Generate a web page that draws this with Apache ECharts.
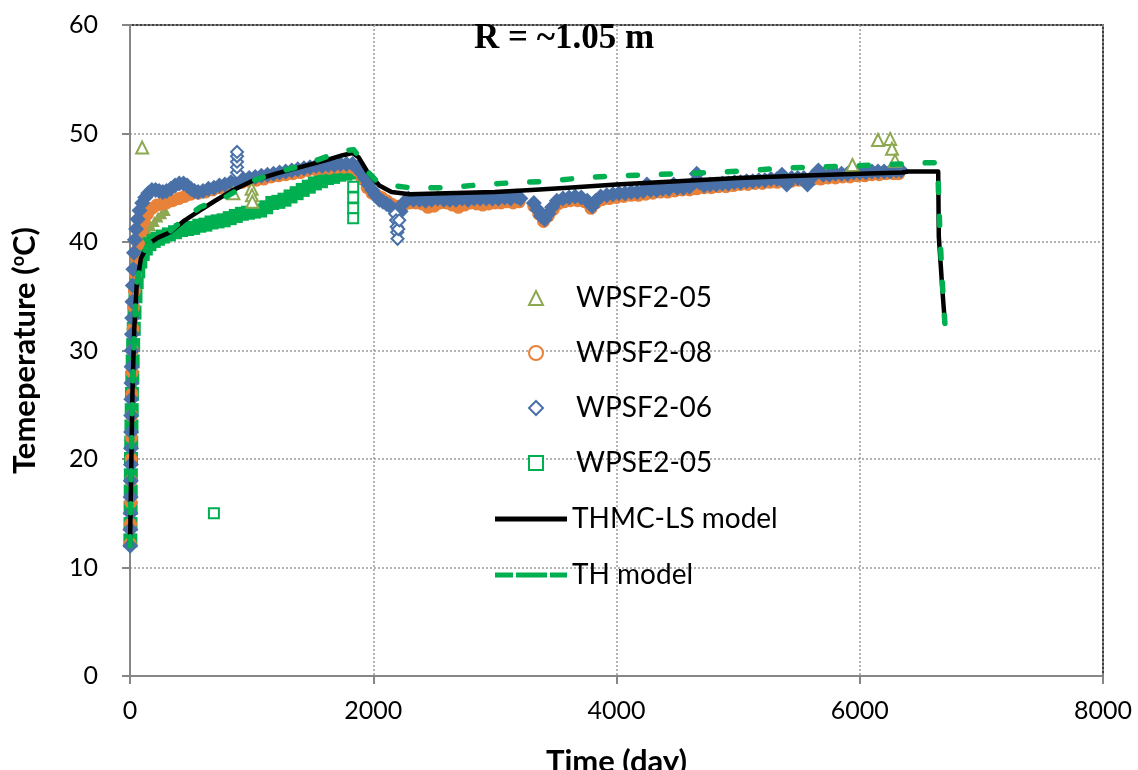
<!DOCTYPE html>
<html>
<head>
<meta charset="utf-8">
<title>Temperature at R ~1.05 m</title>
<script src="https://cdn.jsdelivr.net/npm/echarts@6/dist/echarts.min.js"></script>
<style>
  html, body { margin: 0; padding: 0; background: #fff; }
  #chart { width: 1138px; height: 770px; }
</style>
</head>
<body>
<div id="chart"></div>
<script>
// [day, temperature]
// WPSF2-06 (diamonds) - dense band
var wpsf206Band = [
  [2,12],[3,13.5],[4,15],[5,16.5],[6,18],[7,19.5],[8,21],[9,22.5],[10,24],[11,25.5],[12,27],[13,28.5],
  [14,30],[16,31.5],[18,33],[20,34.5],[23,36],[27,37.5],[33,39],[40,40.2],[50,41.2],[62,42.1],[78,42.9],
  [100,43.6],[125,44.1],[150,44.5],[180,44.8],[210,44.8],[240,44.7],[270,44.6],[300,44.7],[335,44.9],
  [370,45.2],[405,45.4],[440,45.4],[470,45.2],[500,44.9],[530,44.7],[560,44.6],[600,44.7],[645,44.9],
  [690,45.0],[735,45.2],[780,45.3],[830,45.5],[880,45.6],[930,45.8],[980,45.9],[1030,46.0],[1080,46.1],
  [1130,46.2],[1180,46.3],[1230,46.4],[1280,46.5],[1330,46.6],[1380,46.7],[1430,46.8],[1480,46.9],
  [1530,47.0],[1580,47.0],[1630,47.1],[1680,47.1],[1730,47.2],[1780,47.2],[1830,47.2],[1870,46.9],
  [1900,46.4],[1930,45.9],[1960,45.3],[1990,44.8],[2020,44.3],[2050,43.9],[2080,43.7],[2110,43.5],
  [2140,43.3],[2170,43.0],[2225,42.8],[2250,43.6],[2290,44.0],[2330,43.9],[2380,43.9],[2430,43.8],
  [2480,43.9],[2530,44.0],[2580,43.9],[2630,43.9],[2680,43.9],[2730,44.0],[2780,43.9],[2830,44.0],
  [2880,44.0],[2930,44.0],[2980,44.0],[3030,44.0],[3080,44.1],[3130,44.0],[3180,44.2],[3210,44.0],
  [3320,43.6],[3350,43.0],[3380,42.4],[3410,42.1],[3440,42.6],[3470,43.2],[3510,43.8],[3560,44.0],
  [3610,44.1],[3660,44.2],[3710,44.1],[3760,43.8],[3800,43.3],[3830,43.8],[3870,44.2],[3920,44.3],
  [3970,44.4],[4020,44.5],[4070,44.5],[4120,44.6],[4170,44.6],[4220,44.7],[4250,45.3],[4280,44.8],
  [4330,44.8],[4380,44.9],[4430,44.9],[4470,45.3],[4500,45.0],[4550,45.0],[4600,45.1],[4640,45.5],
  [4660,46.3],[4680,45.5],[4720,45.2],[4770,45.3],[4820,45.3],[4870,45.4],[4920,45.4],[4970,45.5],
  [5020,45.5],[5070,45.6],[5120,45.6],[5170,45.7],[5220,45.7],[5270,45.8],[5320,45.8],[5360,46.2],
  [5400,45.3],[5440,45.9],[5490,45.9],[5540,45.9],[5570,45.3],[5610,46.0],[5660,46.6],[5700,46.2],
  [5750,46.2],[5800,46.3],[5850,46.3],[5900,46.3],[5950,46.4],[6000,46.4],[6050,46.4],[6100,46.5],
  [6150,46.5],[6200,46.5],[6250,46.5],[6300,46.6],[6340,46.6]
];
// WPSF2-06 single readings
var wpsf206Points = [
  [880,46.4],[880,46.9],[880,47.4],[880,47.9],[880,48.3],
  [2180,42.6],[2188,42.0],[2193,41.4],[2197,40.9],[2200,40.3],[2206,41.2],[2214,42.0]
];

// WPSF2-08 (circles)
var wpsf208Band = [
  [2,12.2],[4,14],[6,16],[8,18],[10,20],[12,22],[14,24],[16,26],[18,28],[21,30],[25,32],[30,34],
  [36,35.5],[44,37],[55,38.5],[70,39.8],[90,41],[115,41.9],[145,42.6],[180,43.1],[220,43.4],[260,43.5],
  [300,43.6],[350,43.8],[400,44.0],[450,44.2],[500,44.4],[560,44.5],[620,44.6],[680,44.8],[740,45.0],
  [800,45.1],[860,45.3],[920,45.5],[980,45.6],[1040,45.7],[1100,45.8],[1160,46.0],[1220,46.1],
  [1280,46.2],[1340,46.3],[1400,46.4],[1460,46.6],[1520,46.7],[1580,46.8],[1640,46.8],[1700,46.9],
  [1760,46.9],[1820,46.9],[1870,46.6],[1910,45.8],[1950,45.0],[1990,44.5],[2030,44.3],[2070,44.1],
  [2110,43.8],[2150,43.5],[2200,43.3],[2250,43.4],[2300,43.6],[2350,43.6],[2400,43.5],[2450,43.2],
  [2500,43.3],[2550,43.6],[2600,43.6],[2650,43.4],[2700,43.2],[2750,43.4],[2800,43.6],[2850,43.5],
  [2900,43.4],[2950,43.5],[3000,43.6],[3050,43.6],[3100,43.7],[3150,43.6],[3200,43.7],
  [3320,43.3],[3360,42.6],[3400,41.9],[3440,42.4],[3480,43.0],[3520,43.5],[3570,43.7],[3620,43.8],
  [3680,43.8],[3740,43.7],[3790,43.1],[3830,43.6],[3880,43.9],[3940,44.0],[4000,44.1],[4060,44.2],
  [4120,44.3],[4180,44.3],[4240,44.4],[4300,44.5],[4360,44.6],[4420,44.6],[4480,44.7],[4540,44.8],
  [4600,44.8],[4660,44.9],[4720,45.0],[4780,45.0],[4840,45.1],[4900,45.1],[4960,45.2],[5020,45.3],
  [5080,45.3],[5140,45.4],[5200,45.4],[5260,45.5],[5320,45.5],[5380,45.6],[5440,45.6],[5500,45.7],
  [5560,45.7],[5620,45.8],[5680,45.8],[5740,45.9],[5800,45.9],[5860,46.0],[5920,46.0],[5980,46.1],
  [6040,46.1],[6100,46.2],[6160,46.2],[6220,46.3],[6280,46.3],[6320,46.3]
];

// WPSF2-05 (triangles)
var wpsf205Band = [
  [3,12.5],[6,15],[9,18],[12,21],[15,24],[18,27],[22,30],[27,33],[34,36],[45,38.5],[60,40],[80,40.6],
  [110,40.9],[140,41.1],[170,41.5],[200,41.9],[230,42.3],[260,42.6],[290,42.9]
];
var wpsf205Points = [
  [100,48.7],[850,44.5],[1000,44.9],[1003,44.3],[1006,43.7],
  [5940,47.1],[6150,49.4],[6250,49.5],[6265,48.6],[6290,47.5]
];

// WPSE2-05 (squares)
var wpse205Band = [
  [3,12.5],[4,14],[5,15.5],[6,17],[7,18.5],[8,20],[10,21.5],[12,23],[14,24.5],[16,26],[19,27.5],
  [22,29],[26,30.5],[31,32],[37,33.5],[45,35],[55,36.3],[68,37.3],[85,38.2],[105,38.9],[130,39.4],
  [160,39.8],[195,40.1],[230,40.3],[270,40.5],[320,40.7],[370,40.9],[420,41.1],[470,41.2],[520,41.3],
  [570,41.5],[620,41.6],[670,41.8],[720,41.9],[770,42.0],[820,42.2],[870,42.4],[920,42.6],[970,42.7],
  [1020,42.8],[1070,42.9],[1120,43.2],[1170,43.6],[1220,43.7],[1270,43.9],[1320,44.2],[1370,44.5],
  [1420,44.8],[1470,45.1],[1520,45.4],[1570,45.6],[1620,45.9],[1670,46.0],[1720,46.2],[1770,46.3],
  [1820,46.4],[1860,46.5]
];
var wpse205Points = [
  [690,15.0],[1835,45.1],[1835,44.1],[1835,43.1],[1835,42.2]
];

// models
var thmcModel = [
  [0,12],[10,19],[20,26],[35,32],[55,36],[90,38.5],[150,39.8],[230,40.4],[330,40.9],[450,42.0],
  [560,42.8],[700,43.8],[850,44.8],[1000,45.6],[1200,46.3],[1400,46.9],[1600,47.5],[1750,48.0],
  [1830,48.2],[1880,47.8],[1950,46.5],[2050,45.2],[2150,44.6],[2300,44.4],[2600,44.5],[3000,44.6],
  [3300,44.8],[3600,45.0],[4000,45.3],[4500,45.6],[5000,45.9],[5500,46.1],[6000,46.3],[6350,46.4],
  [6400,46.5],[6645,46.5],[6650,40.5],[6665,38],[6680,35.5],[6690,34],[6700,32.5]
];
var thModel = [
  [0,12],[10,19],[20,26],[35,32],[55,36],[90,38.5],[150,39.8],[230,40.4],[330,41.0],[450,42.2],
  [576,43.2],[797,44.2],[1000,45.6],[1200,46.4],[1400,47.0],[1550,47.6],[1750,48.4],[1840,48.5],
  [1900,47.6],[1960,46.4],[2030,45.6],[2100,45.3],[2300,45.0],[2600,45.0],[2900,45.3],[3200,45.5],
  [3450,45.6],[3700,45.9],[4000,46.1],[4300,46.2],[4500,46.3],[4800,46.4],[5100,46.6],[5350,46.8],
  [5600,46.9],[5900,47.0],[6150,47.1],[6550,47.3],[6640,47.3],[6645,45.5],[6660,40.5],[6680,36],
  [6700,32.5]
];

var xTicks = [0, 2000, 4000, 6000, 8000];
var yTicks = [0, 10, 20, 30, 40, 50, 60];

var blue = '#4a70a8', orange = '#e8823a', olive = '#8da851', green = '#00b050';
var font = 'Lato, "Open Sans", sans-serif';

var chart = echarts.init(document.getElementById('chart'));

function band(name, data, symbol, size, color) {
  return {
    name: name, type: 'scatter', data: data, symbol: symbol, symbolSize: size,
    itemStyle: { color: color, opacity: 1 }, silent: true
  };
}
function points(name, data, symbol, size, color) {
  return {
    name: name, type: 'scatter', data: data, symbol: symbol, symbolSize: size,
    itemStyle: { color: color, borderColor: color, borderWidth: 1.6, opacity: 1 }, silent: true
  };
}

var legendText = { fontFamily: font, fontSize: 28, color: '#000' };

chart.setOption({
  animation: false,
  backgroundColor: '#fff',
  title: {
    text: 'R = ~1.05 m',
    left: 474, top: 21, padding: 0,
    textStyle: { fontFamily: '"Liberation Serif", serif', fontWeight: 'bold', fontSize: 35, color: '#000' }
  },
  grid: {
    left: 130, top: 25, right: 35, bottom: 94,
    outerBoundsMode: 'none', containLabel: false,
    show: true, borderColor: '#000', borderWidth: 1.5, backgroundColor: '#fff'
  },
  legend: [{
    orient: 'vertical', left: 528, top: 284, padding: 0,
    itemWidth: 14, itemHeight: 14, itemGap: 27, symbolKeepAspect: true,
    textStyle: Object.assign({ padding: [0, 0, 0, 28] }, legendText),
    data: [
      { name: 'WPSF2-05', icon: 'emptyTriangle' },
      { name: 'WPSF2-08', icon: 'emptyCircle' },
      { name: 'WPSF2-06', icon: 'emptyDiamond' },
      { name: 'WPSE2-05', icon: 'emptyRect' }
    ]
  }, {
    orient: 'vertical', left: 495, top: 505, padding: 0,
    itemWidth: 72, itemHeight: 5, itemGap: 28, symbolKeepAspect: false,
    textStyle: legendText,
    data: [
      { name: 'THMC-LS model', icon: 'rect' },
      { name: 'TH model', icon: 'path://M0,0h18v5h-18z M21,0h31v5h-31z M55,0h17v5h-17z' }
    ]
  }],
  xAxis: {
    type: 'value', min: xTicks[0], max: xTicks[xTicks.length - 1], interval: 2000,
    name: 'Time (day)', nameLocation: 'middle', nameGap: 70,
    nameTextStyle: { fontFamily: font, fontWeight: 'bold', fontSize: 31, color: '#000' },
    axisLine: { lineStyle: { color: '#868686', width: 2 } },
    axisTick: { show: true, length: 8, lineStyle: { color: '#868686', width: 2 } },
    axisLabel: { fontFamily: font, fontSize: 25, color: '#000', margin: 22, formatter: function (v) { return String(v); } },
    splitLine: { show: true, lineStyle: { color: '#9a9a9a', width: 1.5, type: [2, 2] } }
  },
  yAxis: {
    type: 'value', min: yTicks[0], max: yTicks[yTicks.length - 1], interval: 10,
    name: '{t|Temeperature (}{s|o}{t|C)}', nameLocation: 'middle', nameGap: 90,
    nameTextStyle: {
      rich: {
        t: { fontFamily: font, fontWeight: 'bold', fontSize: 31, color: '#000' },
        s: { fontFamily: font, fontWeight: 'bold', fontSize: 18, color: '#000', verticalAlign: 'top' }
      }
    },
    axisLine: { show: true, lineStyle: { color: '#868686', width: 2 } },
    axisTick: { show: true, length: 8, lineStyle: { color: '#868686', width: 2 } },
    axisLabel: { fontFamily: font, fontSize: 25, color: '#000', margin: 32 },
    splitLine: { show: true, lineStyle: { color: '#9a9a9a', width: 1.5, type: [2, 2] } }
  },
  series: [
    {
      name: 'THMC-LS model', type: 'line', data: thmcModel, symbol: 'none', silent: true,
      itemStyle: { color: '#000' },
      lineStyle: { color: '#000', width: 4.5, cap: 'round', join: 'round' }
    },
    {
      name: 'TH model', type: 'line', data: thModel, symbol: 'none', silent: true,
      itemStyle: { color: green },
      lineStyle: { color: green, width: 5.5, type: [9, 24], cap: 'round', join: 'round' }
    },
    band('WPSF2-05', wpsf205Band, 'triangle', 11, olive),
    band('WPSE2-05', wpse205Band, 'rect', 14, green),
    band('WPSF2-08', wpsf208Band, 'circle', 13, orange),
    band('WPSF2-06', wpsf206Band, 'diamond', 16, blue),
    points('WPSF2-05', wpsf205Points, 'emptyTriangle', 12, olive),
    points('WPSE2-05', wpse205Points, 'emptyRect', 10, green),
    points('WPSF2-06', wpsf206Points, 'emptyDiamond', 12, blue)
  ]
});
</script>
</body>
</html>
